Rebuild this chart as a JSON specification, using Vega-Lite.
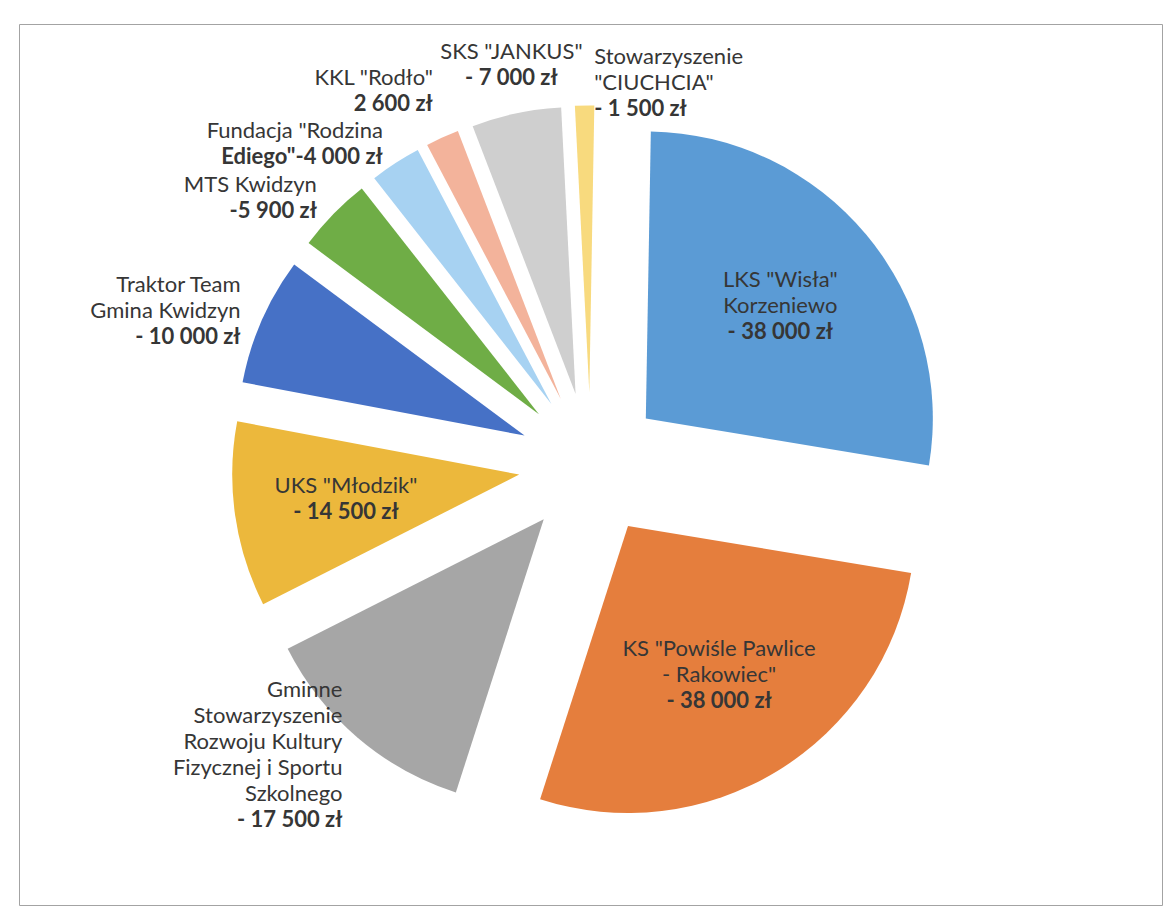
{
  "$schema": "https://vega.github.io/schema/vega-lite/v6.json",
  "width": 1143,
  "height": 881,
  "autosize": {"type": "none"},
  "padding": {"left": 19, "top": 24, "right": 3, "bottom": 6},
  "background": "white",
  "view": {"stroke": "#a3a3a3", "strokeWidth": 1},
  "config": {
    "view": {"stroke": "#a3a3a3", "strokeWidth": 1},
    "text": {"font": "Lato", "fontSize": 22, "lineHeight": 26, "fill": "#363636", "baseline": "middle"}
  },
  "data": {
    "values": [
      {"rank": 1, "club": "LKS \"Wisła\" Korzeniewo", "lines": ["LKS \"Wisła\"", "Korzeniewo"], "amount": "- 38 000 zł", "v": 38000},
      {"rank": 2, "club": "KS \"Powiśle Pawlice - Rakowiec\"", "lines": ["KS \"Powiśle Pawlice", "- Rakowiec\""], "amount": "-  38 000 zł", "v": 38000},
      {"rank": 3, "club": "Gminne Stowarzyszenie Rozwoju Kultury Fizycznej i Sportu Szkolnego", "lines": ["Gminne", "Stowarzyszenie", "Rozwoju Kultury", "Fizycznej i Sportu", "Szkolnego"], "amount": "- 17 500 zł", "v": 17500},
      {"rank": 4, "club": "UKS \"Młodzik\"", "lines": ["UKS \"Młodzik\""], "amount": "- 14 500 zł", "v": 14500},
      {"rank": 5, "club": "Traktor Team Gmina Kwidzyn", "lines": ["Traktor Team", "Gmina Kwidzyn"], "amount": "- 10 000 zł", "v": 10000},
      {"rank": 6, "club": "MTS Kwidzyn", "lines": ["MTS Kwidzyn"], "amount": "-5 900 zł", "v": 5900},
      {"rank": 7, "club": "Fundacja \"Rodzina Ediego\"", "lines": ["Fundacja \"Rodzina"], "amount": "Ediego\"-4 000 zł", "v": 4000},
      {"rank": 8, "club": "KKL \"Rodło\"", "lines": ["KKL \"Rodło\""], "amount": "2 600 zł", "v": 2600},
      {"rank": 9, "club": "SKS \"JANKUS\"", "lines": ["SKS \"JANKUS\""], "amount": "- 7 000 zł", "v": 7000},
      {"rank": 10, "club": "Stowarzyszenie \"CIUCHCIA\"", "lines": ["Stowarzyszenie", "\"CIUCHCIA\""], "amount": "- 1 500 zł", "v": 1500}
    ]
  },
  "encoding": {
    "theta": {"field": "v", "type": "quantitative", "stack": true, "scale": {"range": [0.01745, 6.30064], "nice": false, "zero": true}},
    "order": {"field": "rank", "type": "quantitative"},
    "detail": {"field": "club", "type": "nominal"}
  },
  "layer": [
    {
      "mark": {
        "type": "arc",
        "outerRadius": 287,
        "x": {"expr": "width/2 + 72*sin((scale('theta', datum.v_start) + scale('theta', datum.v_end))/2)"},
        "y": {"expr": "height/2 - 72*cos((scale('theta', datum.v_start) + scale('theta', datum.v_end))/2)"}
      },
      "encoding": {
        "color": {
          "field": "club",
          "type": "nominal",
          "legend": null,
          "sort": {"field": "rank", "op": "min"},
          "scale": {"range": ["#5B9BD5", "#E57E3D", "#A6A6A6", "#ECB83C", "#4671C6", "#6FAD46", "#A7D2F2", "#F3B39B", "#CFCFCF", "#F8DA7E"]}
        }
      }
    },
    {
      "mark": {
        "type": "text",
        "fontWeight": "normal",
        "baseline": "middle",
        "x": {"expr": "width/2 + 72*sin((scale('theta', datum.v_start) + scale('theta', datum.v_end))/2)"},
        "y": {"expr": "height/2 - 72*cos((scale('theta', datum.v_start) + scale('theta', datum.v_end))/2)"},
        "radius": {"expr": "(length(datum.lines) <= 2 && datum.v >= 14000) ? 175 : 310"},
        "align": {"expr": "(length(datum.lines) <= 2 && datum.v >= 14000) ? 'center' : (sin((scale('theta', datum.v_start) + scale('theta', datum.v_end))/2) < -0.3 ? 'right' : (sin((scale('theta', datum.v_start) + scale('theta', datum.v_end))/2) < -0.05 ? 'center' : 'left'))"},
        "dy": {"expr": "(!(length(datum.lines) <= 2 && datum.v >= 14000) && cos((scale('theta', datum.v_start) + scale('theta', datum.v_end))/2) > 0.88 && sin((scale('theta', datum.v_start) + scale('theta', datum.v_end))/2) < -0.05) ? -(13 + 26*length(datum.lines)) : -13*length(datum.lines)"},
        "dx": {"expr": "(!(length(datum.lines) <= 2 && datum.v >= 14000) && sin((scale('theta', datum.v_start) + scale('theta', datum.v_end))/2) >= -0.05) ? 10 : 0"}
      },
      "encoding": {
        "text": {"field": "lines", "type": "nominal"}
      }
    },
    {
      "mark": {
        "type": "text",
        "fontWeight": "bold",
        "baseline": "middle",
        "x": {"expr": "width/2 + 72*sin((scale('theta', datum.v_start) + scale('theta', datum.v_end))/2)"},
        "y": {"expr": "height/2 - 72*cos((scale('theta', datum.v_start) + scale('theta', datum.v_end))/2)"},
        "radius": {"expr": "(length(datum.lines) <= 2 && datum.v >= 14000) ? 175 : 310"},
        "align": {"expr": "(length(datum.lines) <= 2 && datum.v >= 14000) ? 'center' : (sin((scale('theta', datum.v_start) + scale('theta', datum.v_end))/2) < -0.3 ? 'right' : (sin((scale('theta', datum.v_start) + scale('theta', datum.v_end))/2) < -0.05 ? 'center' : 'left'))"},
        "dy": {"expr": "(!(length(datum.lines) <= 2 && datum.v >= 14000) && cos((scale('theta', datum.v_start) + scale('theta', datum.v_end))/2) > 0.88 && sin((scale('theta', datum.v_start) + scale('theta', datum.v_end))/2) < -0.05) ? -13 : 13*length(datum.lines)"},
        "dx": {"expr": "(!(length(datum.lines) <= 2 && datum.v >= 14000) && sin((scale('theta', datum.v_start) + scale('theta', datum.v_end))/2) >= -0.05) ? 10 : 0"}
      },
      "encoding": {
        "text": {"field": "amount", "type": "nominal"}
      }
    }
  ]
}
